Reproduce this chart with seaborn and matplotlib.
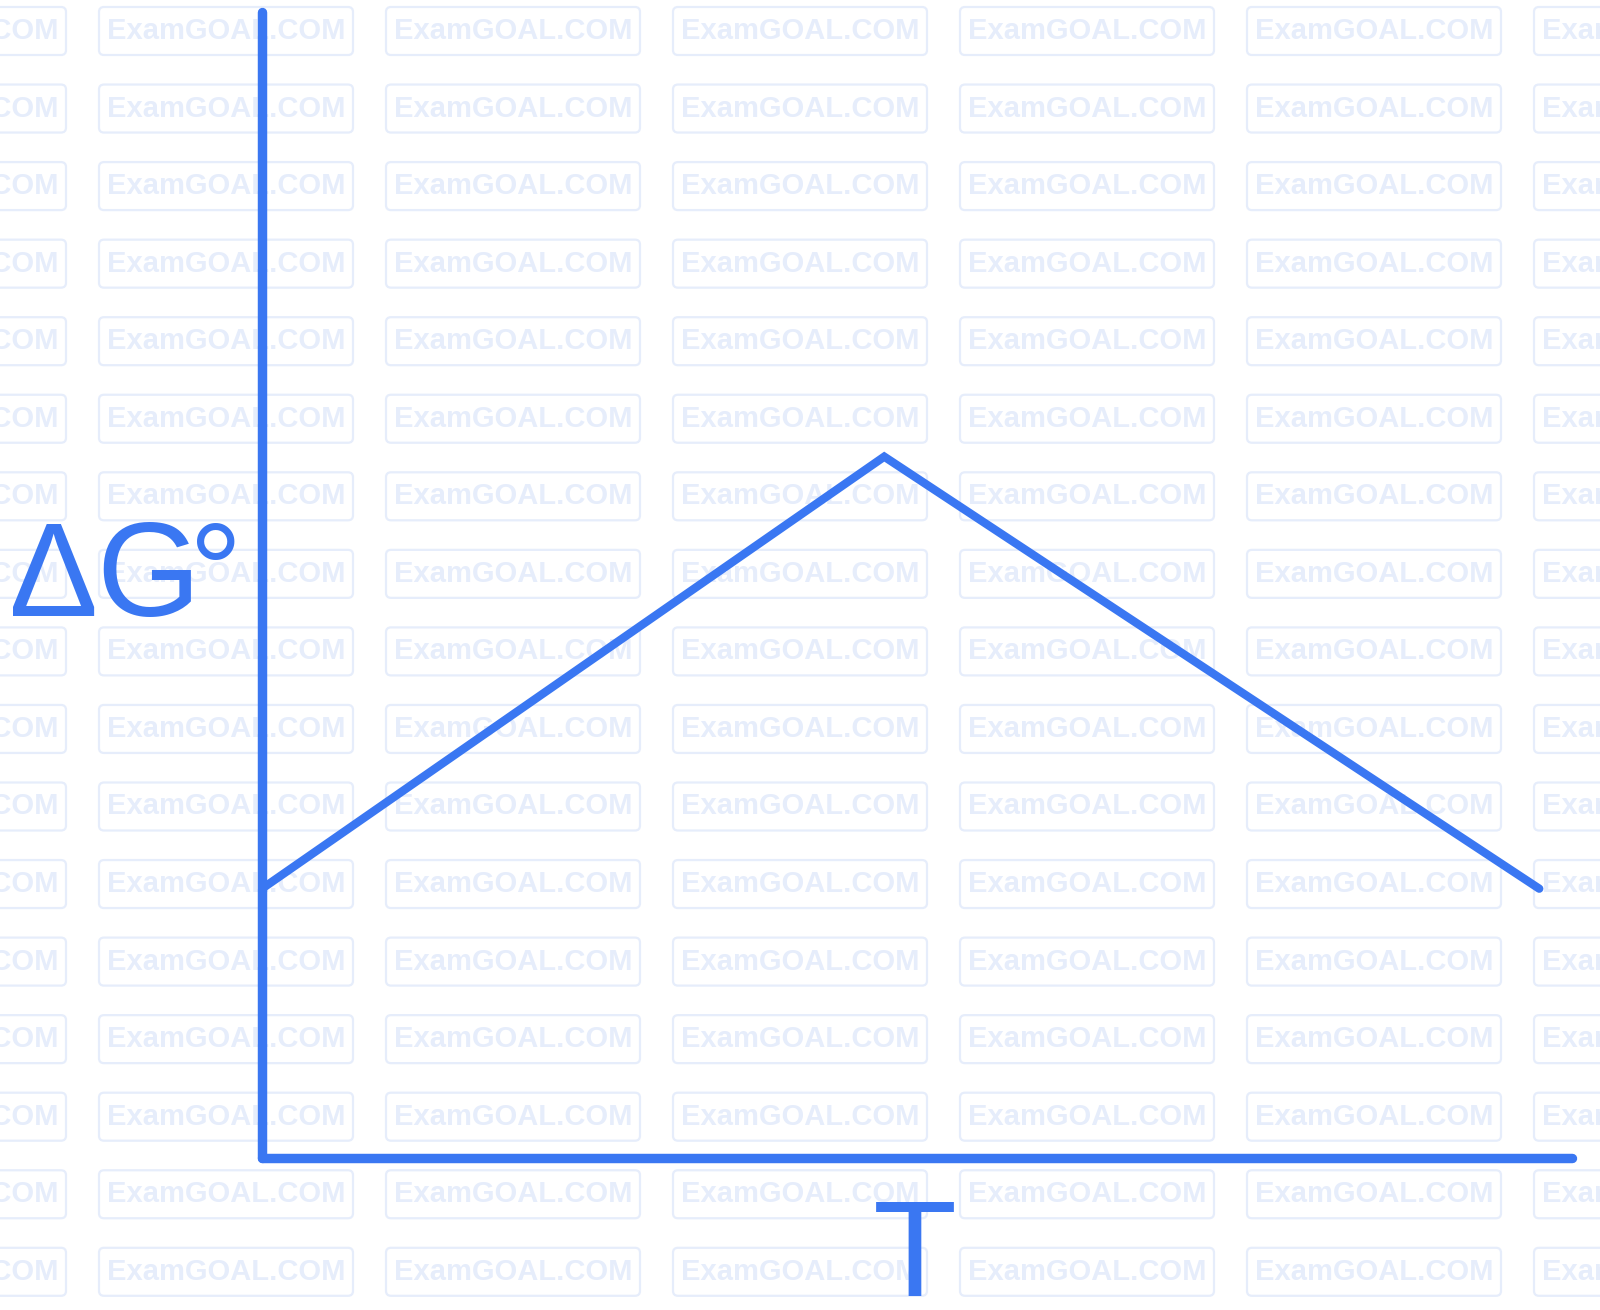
import matplotlib
matplotlib.use("Agg")
import matplotlib.pyplot as plt
from matplotlib.patches import FancyBboxPatch
import seaborn as sns
import pandas as pd

# sketch of delta G vs T (arbitrary units)
temperature = [0.0, 4.75, 9.75]
delta_g = [2.35, 6.12, 2.35]

blue = "#3A77F2"
mark_col = "#E6EDFB"
label_font = ['Liberation Sans', 'DejaVu Sans']

sns.set_theme(style="white")
plt.rcParams['font.family'] = ['DejaVu Sans']

fig = plt.figure(figsize=(16, 13.1), dpi=100)

# watermark grid in pixel space
bg = fig.add_axes([0, 0, 1, 1], zorder=0)
bg.set_xlim(0, 1600)
bg.set_ylim(1310, 0)
bg.axis('off')
for i in range(7):
    cx = -61 + 287 * i
    for j in range(17):
        cy = 31 + 77.55 * j
        bg.add_patch(FancyBboxPatch((cx - 125, cy - 22), 250, 44,
                                    boxstyle="round,pad=2,rounding_size=5",
                                    fc="none", ec=mark_col, lw=1.6))
        bg.text(cx, cy, "ExamGOAL.COM", ha='center', va='center',
                fontsize=21, fontweight='bold', color=mark_col,
                family=['Liberation Sans', 'DejaVu Sans'])

ax = fig.add_axes([262 / 1600, 152 / 1310, 1310 / 1600, 1146 / 1310], zorder=1)
ax.patch.set_alpha(0)
df = pd.DataFrame({"T": temperature, "dG": delta_g})
sns.lineplot(data=df, x="T", y="dG", ax=ax, color=blue, lw=6,
             solid_capstyle='round', solid_joinstyle='miter')
ax.set_xlim(0, 10)
ax.set_ylim(0, 10)
ax.set_xticks([])
ax.set_yticks([])
ax.set_xlabel("")
ax.set_ylabel("")
sns.despine(ax=ax)
for s in ['left', 'bottom']:
    ax.spines[s].set_color(blue)
    ax.spines[s].set_linewidth(6.8)
    ax.spines[s].set_capstyle('round')

# y label: glyphs set one by one so the label stays as narrow as the original
for ch, cx in zip(["Δ", "G", "°"], [54, 148, 216]):
    fig.text(cx / 1600, 1 - 616 / 1310, ch, ha='center', va='baseline',
             fontsize=96, color=blue, family=label_font)
fig.text(915 / 1600, 1 - 1296 / 1310, "T", ha='center', va='baseline',
         fontsize=99, color=blue, family=label_font)

fig.savefig("out.png", dpi=100)
